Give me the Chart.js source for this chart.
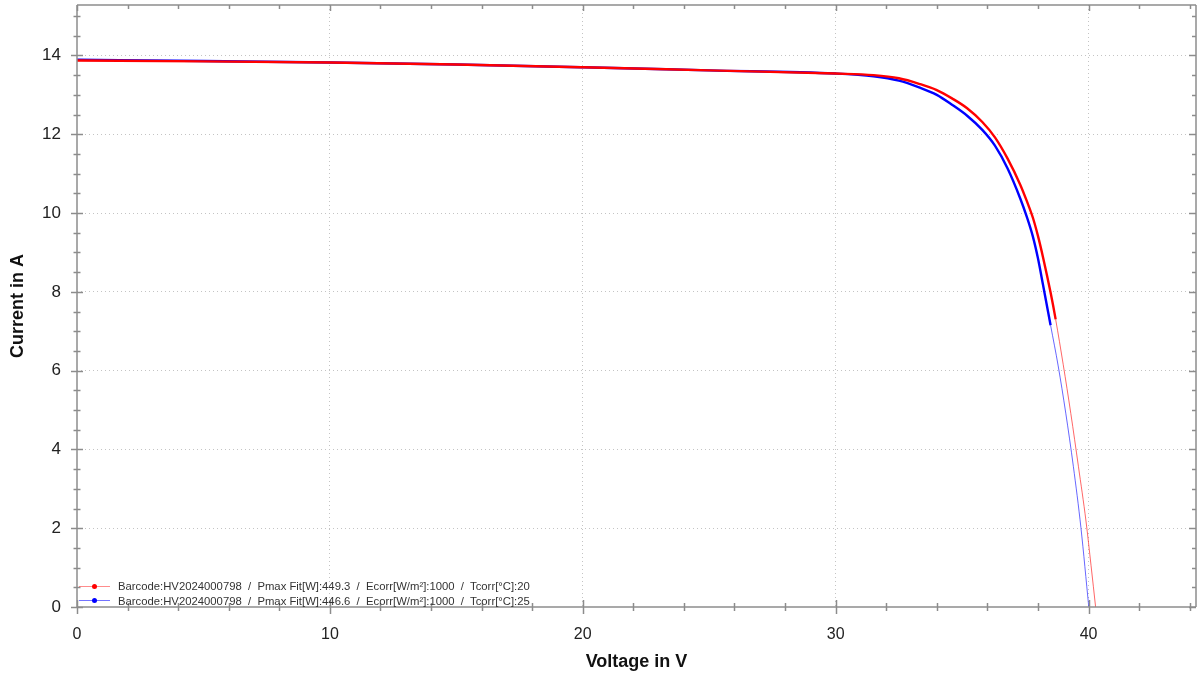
<!DOCTYPE html>
<html>
<head>
<meta charset="utf-8">
<script src="https://cdn.jsdelivr.net/npm/chart.js@4.4.1/dist/chart.umd.min.js"></script>
<style>
  html, body { margin: 0; padding: 0; background: #fff; }
  #wrap { position: relative; width: 1198px; height: 675px; }
  #legend {
    position: absolute; left: 79px; top: 579px;
    font: 11.3px "Liberation Sans", Arial, sans-serif; color: #333;
  }
  #legend .row { display: flex; align-items: center; height: 14.5px; white-space: pre; }
  #legend .swatch { position: relative; width: 31px; height: 1px; margin-right: 8px; }
  #legend .swatch::after {
    content: ''; position: absolute; left: 13px; top: -2px; width: 5px; height: 5px;
    border-radius: 50%; background: var(--dot);
  }
</style>
</head>
<body>
<div id="wrap">
  <canvas id="c" width="1198" height="675"></canvas>
  <div id="legend"></div>
</div>
<script>
// --- DATA ---
const seriesLabels = [
  'Barcode:HV2024000798  /  Pmax Fit[W]:449.3  /  Ecorr[W/m²]:1000  /  Tcorr[°C]:20',
  'Barcode:HV2024000798  /  Pmax Fit[W]:446.6  /  Ecorr[W/m²]:1000  /  Tcorr[°C]:25'
];
const redVoltage = [0, 5, 10, 15, 20, 25, 30, 31.5, 32.5, 33.3, 34.0, 34.6, 35.2, 35.8, 36.3, 36.8, 37.3, 37.55, 37.8, 38.0, 38.2, 38.5, 38.7, 39.0, 39.3, 39.6, 39.9, 40.1, 40.28];
const redCurrent = [13.87, 13.85, 13.82, 13.77, 13.70, 13.62, 13.54, 13.50, 13.42, 13.28, 13.12, 12.91, 12.66, 12.31, 11.92, 11.38, 10.72, 10.32, 9.88, 9.42, 8.88, 7.98, 7.30, 6.15, 4.91, 3.57, 2.18, 1.05, 0];
const blueVoltage = [0, 5, 10, 15, 20, 25, 30, 31.5, 32.5, 33.3, 34.0, 34.6, 35.2, 35.8, 36.3, 36.8, 37.3, 37.55, 37.8, 38.0, 38.2, 38.5, 38.8, 39.1, 39.4, 39.7, 40.01];
const blueCurrent = [13.89, 13.86, 13.82, 13.77, 13.70, 13.62, 13.54, 13.47, 13.36, 13.19, 13.00, 12.75, 12.47, 12.11, 11.71, 11.13, 10.37, 9.92, 9.40, 8.85, 8.18, 7.15, 6.12, 4.92, 3.57, 2.01, 0];
const xMajorTicks = [0, 10, 20, 30, 40];
const yMajorTicks = [0, 2, 4, 6, 8, 10, 12, 14];

const FONT = '"Liberation Sans", Arial, sans-serif';
const AXIS = '#8c8c8c';
const TAIL = 7.6; // below this current the measured curve gets thin

function toPoints(xs, ys) { return xs.map((v, i) => ({ x: v, y: ys[i] })); }

function curve(label, xs, ys, color, faint) {
  return {
    label, data: toPoints(xs, ys),
    borderColor: color, borderWidth: 2.4,
    pointRadius: 0, cubicInterpolationMode: 'monotone',
    segment: {
      borderWidth: c => c.p0.parsed.y < TAIL ? 1 : 2.4,
      borderColor: c => c.p0.parsed.y < TAIL ? faint : color
    }
  };
}

// --- LEGEND ---
const legendColors = [['rgba(255,0,0,0.45)', '#ff0000'], ['rgba(0,0,255,0.55)', '#0000ff']];
document.getElementById('legend').innerHTML = seriesLabels.map((l, i) => `
  <div class="row"><span class="swatch" style="background:${legendColors[i][0]};--dot:${legendColors[i][1]}"></span>${l}</div>`).join('');

// axis frame + major/minor tick marks
const frameTicks = {
  id: 'frameTicks',
  afterDraw(chart) {
    const { ctx, chartArea: a, scales: { x, y } } = chart;
    ctx.save();
    ctx.strokeStyle = AXIS;
    ctx.lineWidth = 1.5;
    const seg = (x1, y1, x2, y2) => { ctx.beginPath(); ctx.moveTo(x1, y1); ctx.lineTo(x2, y2); ctx.stroke(); };
    seg(a.left, a.top, a.right, a.top);
    seg(a.right, a.top, a.right, a.bottom);
    seg(a.left, a.top, a.left, a.bottom);
    seg(a.left, a.bottom, a.right, a.bottom);
    x.ticks.forEach(t => {
      const px = Math.round(x.getPixelForValue(t.value)) + 0.5;
      const major = xMajorTicks.includes(t.value);
      const len = major ? 7 : 4;
      seg(px, a.bottom - len, px, a.bottom + len);
      seg(px, a.top, px, a.top + (major ? 6 : 4));
    });
    y.ticks.forEach(t => {
      const py = Math.round(y.getPixelForValue(t.value)) + 0.5;
      const major = yMajorTicks.includes(t.value);
      const len = major ? 6 : 3.5;
      seg(a.left - len, py, a.left + len, py);
      seg(a.right - (major ? 7 : 4), py, a.right, py);
    });
    ctx.restore();
  }
};

const gridColor = majors => c => (c.tick && majors.includes(c.tick.value) && c.tick.value !== 0) ? '#c4c4c4' : 'rgba(0,0,0,0)';

new Chart(document.getElementById('c'), {
  type: 'line',
  data: {
    datasets: [
      curve(seriesLabels[0], redVoltage, redCurrent, '#ff0000', 'rgba(255,0,0,0.6)'),
      curve(seriesLabels[1], blueVoltage, blueCurrent, '#0000ff', 'rgba(0,0,255,0.6)')
    ]
  },
  options: {
    responsive: false, animation: false, parsing: false,
    layout: { padding: { top: 5, right: 2, left: 0, bottom: 0 } },
    plugins: { legend: { display: false }, tooltip: { enabled: false } },
    scales: {
      x: {
        type: 'linear', min: 0, max: 44.25,
        afterFit: s => { s.height = 68; s.paddingLeft = 0; s.paddingRight = 0; },
        border: { display: false, dash: [1, 3] },
        grid: { drawTicks: false, color: gridColor(xMajorTicks) },
        ticks: {
          stepSize: 2, includeBounds: false, autoSkip: false, maxRotation: 0, padding: 18,
          color: '#222', font: { family: FONT, size: 16 },
          callback: v => xMajorTicks.includes(v) ? String(v) : ''
        },
        title: { display: true, text: 'Voltage in V', color: '#111', padding: { top: 2, bottom: 2 },
          font: { family: FONT, size: 18, weight: 'bold' } }
      },
      y: {
        type: 'linear', min: 0, max: 15.28,
        afterFit: s => { s.width = 77; s.paddingTop = 0; s.paddingBottom = 0; },
        border: { display: false, dash: [1, 3] },
        grid: { drawTicks: false, color: gridColor(yMajorTicks) },
        ticks: {
          stepSize: 0.5, includeBounds: false, autoSkip: false, padding: 16,
          color: '#222', font: { family: FONT, size: 17 },
          callback: v => yMajorTicks.includes(v) ? String(v) : ''
        },
        title: { display: true, text: 'Current in A', color: '#111', padding: { top: 7, bottom: 0 },
          font: { family: FONT, size: 18, weight: 'bold' } }
      }
    }
  },
  plugins: [frameTicks]
});
</script>
</body>
</html>
